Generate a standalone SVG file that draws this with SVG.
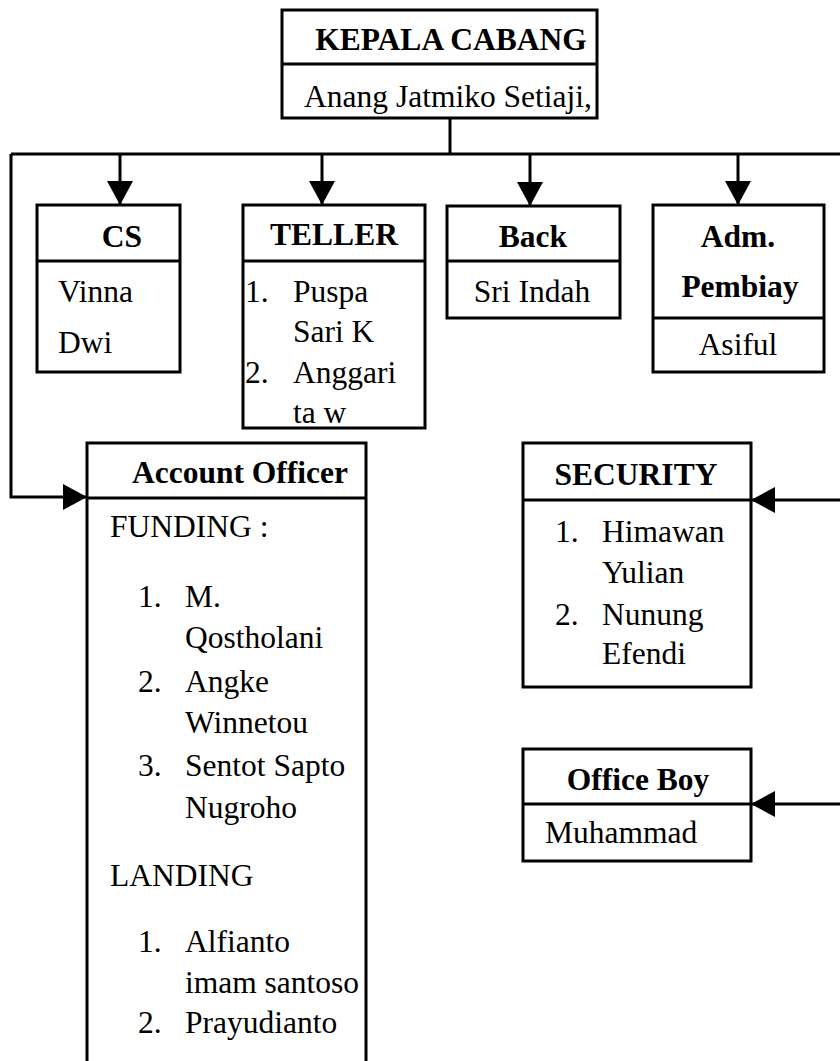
<svg xmlns="http://www.w3.org/2000/svg" width="840" height="1061" viewBox="0 0 840 1061">
<defs>
<marker id="arr" markerUnits="userSpaceOnUse" markerWidth="26" markerHeight="26" viewBox="0 0 24 26" refX="24" refY="13" orient="auto">
<path d="M0,0 L24,13 L0,26 z" fill="#000"/>
</marker>
<clipPath id="clipTop"><rect x="283" y="65" width="313" height="52"/></clipPath>
<clipPath id="clipTeller"><rect x="244" y="262" width="180" height="164"/></clipPath>
</defs>
<style>
.box{fill:#fff;stroke:#000;stroke-width:3}
.ln{fill:none;stroke:#000;stroke-width:3}
.conn{fill:none;stroke:#000;stroke-width:3}
.t{font-family:"Liberation Serif","Times New Roman",serif;font-size:31.5px;fill:#000}
.b{font-weight:bold}
.c{text-anchor:middle}
</style>
<rect width="840" height="1061" fill="#fff"/>
<g id="connectors">
<path class="conn" d="M450,118 V154"/>
<path class="conn" d="M11,154 H840"/>
<path class="conn" d="M11,154 V497 H87" marker-end="url(#arr)"/>
<path class="conn" d="M120,154 V205" marker-end="url(#arr)"/>
<path class="conn" d="M322,154 V205" marker-end="url(#arr)"/>
<path class="conn" d="M530,154 V206" marker-end="url(#arr)"/>
<path class="conn" d="M738,154 V205" marker-end="url(#arr)"/>
<path class="conn" d="M840,500 H751" marker-end="url(#arr)"/>
<path class="conn" d="M840,804 H751" marker-end="url(#arr)"/>
</g>
<g id="kepala">
<rect class="box" x="282" y="10" width="315" height="108"/>
<line class="ln" x1="282" y1="64" x2="597" y2="64"/>
<text class="t b c" x="451" y="50">KEPALA CABANG</text>
<text class="t c" x="448" y="107" clip-path="url(#clipTop)">Anang Jatmiko Setiaji,</text>
</g>
<g id="cs">
<rect class="box" x="37" y="205" width="143" height="167"/>
<line class="ln" x1="37" y1="261" x2="180" y2="261"/>
<text class="t b c" x="122" y="247">CS</text>
<text class="t" x="58" y="302">Vinna</text>
<text class="t" x="58" y="353">Dwi</text>
</g>
<g id="teller">
<rect class="box" x="243" y="205" width="182" height="223"/>
<line class="ln" x1="243" y1="261" x2="425" y2="261"/>
<text class="t b c" x="334" y="245">TELLER</text>
<g clip-path="url(#clipTeller)">
<text class="t" x="245" y="302">1.</text>
<text class="t" x="293" y="302">Puspa</text>
<text class="t" x="293" y="342">Sari K</text>
<text class="t" x="245" y="383">2.</text>
<text class="t" x="293" y="383">Anggari</text>
<text class="t" x="293" y="423">ta w</text>
</g>
</g>
<g id="back">
<rect class="box" x="447" y="206" width="173" height="112"/>
<line class="ln" x1="447" y1="261" x2="620" y2="261"/>
<text class="t b c" x="533" y="247">Back</text>
<text class="t c" x="532" y="302">Sri Indah</text>
</g>
<g id="adm">
<rect class="box" x="653" y="205" width="171" height="167"/>
<line class="ln" x1="653" y1="318" x2="824" y2="318"/>
<text class="t b c" x="738" y="247">Adm.</text>
<text class="t b c" x="740" y="297">Pembiay</text>
<text class="t c" x="738" y="355">Asiful</text>
</g>
<g id="account-officer">
<rect class="box" x="87" y="443" width="279" height="630"/>
<line class="ln" x1="87" y1="498" x2="366" y2="498"/>
<text class="t b c" x="240" y="483">Account Officer</text>
<text class="t" x="110" y="537">FUNDING :</text>
<text class="t" x="138" y="607">1.</text>
<text class="t" x="185" y="607">M.</text>
<text class="t" x="185" y="648">Qostholani</text>
<text class="t" x="138" y="692">2.</text>
<text class="t" x="185" y="692">Angke</text>
<text class="t" x="185" y="733">Winnetou</text>
<text class="t" x="138" y="776">3.</text>
<text class="t" x="185" y="776">Sentot Sapto</text>
<text class="t" x="185" y="818">Nugroho</text>
<text class="t" x="110" y="886">LANDING</text>
<text class="t" x="138" y="952">1.</text>
<text class="t" x="185" y="952">Alfianto</text>
<text class="t" x="185" y="993">imam santoso</text>
<text class="t" x="138" y="1033">2.</text>
<text class="t" x="185" y="1033">Prayudianto</text>
</g>
<g id="security">
<rect class="box" x="523" y="443" width="228" height="244"/>
<line class="ln" x1="523" y1="500" x2="751" y2="500"/>
<text class="t b c" x="636" y="485">SECURITY</text>
<text class="t" x="555" y="542">1.</text>
<text class="t" x="602" y="542">Himawan</text>
<text class="t" x="602" y="583">Yulian</text>
<text class="t" x="555" y="625">2.</text>
<text class="t" x="602" y="625">Nunung</text>
<text class="t" x="602" y="664">Efendi</text>
</g>
<g id="office-boy">
<rect class="box" x="523" y="749" width="228" height="112"/>
<line class="ln" x1="523" y1="804" x2="751" y2="804"/>
<text class="t b c" x="638" y="790">Office Boy</text>
<text class="t" x="545" y="843">Muhammad</text>
</g>
</svg>
